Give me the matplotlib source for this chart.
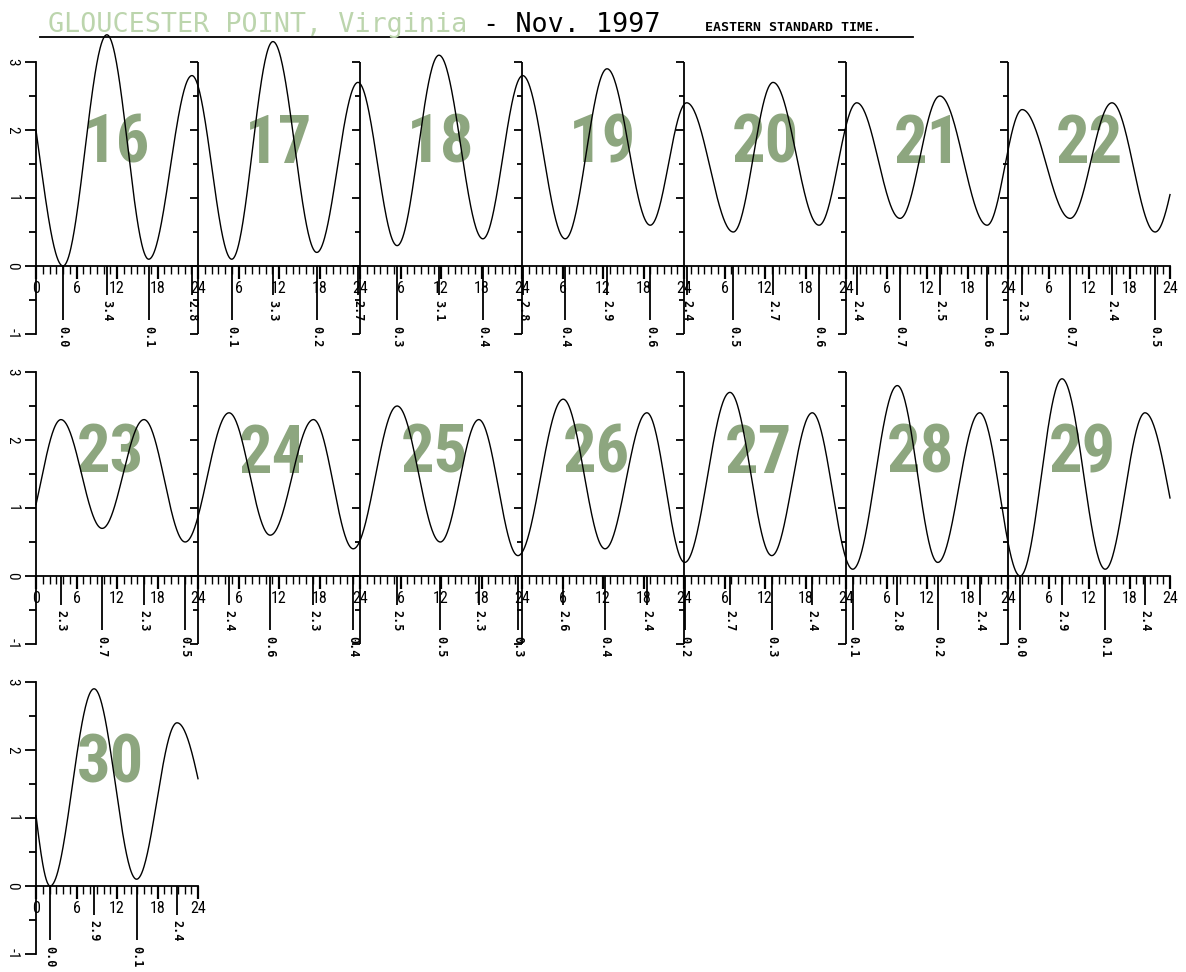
import numpy as np
import matplotlib
matplotlib.use("Agg")
import matplotlib.pyplot as plt
from matplotlib.lines import Line2D

# ---- data: tide extremes, hours from the first day of each row ----
row_days = [
    [16, 17, 18, 19, 20, 21, 22],
    [23, 24, 25, 26, 27, 28, 29],
    [30],
]

row1_times = [4.0, 10.5, 16.7, 23.1,
              29.0, 35.1, 41.6, 47.7,
              53.5, 59.7, 66.2, 72.1,
              78.4, 84.6, 91.0, 96.4,
              103.3, 109.2, 116.0, 121.6,
              128.0, 133.9, 140.9, 146.1,
              153.2, 159.4, 165.8]
row1_heights = [0.0, 3.4, 0.1, 2.8,
                0.1, 3.3, 0.2, 2.7,
                0.3, 3.1, 0.4, 2.8,
                0.4, 2.9, 0.6, 2.4,
                0.5, 2.7, 0.6, 2.4,
                0.7, 2.5, 0.6, 2.3,
                0.7, 2.4, 0.5]

row2_times = [3.7, 9.8, 16.0, 22.1,
              28.6, 34.7, 41.1, 47.0,
              53.5, 59.9, 65.6, 71.4,
              78.1, 84.3, 90.5, 96.1,
              102.8, 109.0, 115.0, 121.0,
              127.6, 133.6, 139.8, 145.8,
              152.0, 158.4, 164.3]
row2_heights = [2.3, 0.7, 2.3, 0.5,
                2.4, 0.6, 2.3, 0.4,
                2.5, 0.5, 2.3, 0.3,
                2.6, 0.4, 2.4, 0.2,
                2.7, 0.3, 2.4, 0.1,
                2.8, 0.2, 2.4, 0.0,
                2.9, 0.1, 2.4]

row3_times = [2.1, 8.6, 14.9, 20.9]
row3_heights = [0.0, 2.9, 0.1, 2.4]

# extremes just outside each row (not labelled, estimated from the curve ends)
row_lead = [(-2.9, 3.2), (-2.2, 0.5), (-2.5, 2.4)]
row_trail = [(171.7, 2.3), (171.5, 0.0), (28.5, 0.1)]

rows_times = [row1_times, row2_times, row3_times]
rows_heights = [row1_heights, row2_heights, row3_heights]

# ---- figure ----
W, H = 1186, 972
fig = plt.figure(figsize=(W / 100, H / 100), dpi=100)
fig.patch.set_facecolor("white")

num_font = ["Roboto Condensed", "Roboto", "DejaVu Sans"]
mono = "DejaVu Sans Mono"
green = "#8da67f"
x0_px, px_per_h = 36, 6.75
zero_px = [266, 576, 886]
unit_px = 68


def tide_curve(times, heights, lead, trail, t_end):
    kt = [lead[0]] + list(times) + [trail[0]]
    kh = [lead[1]] + list(heights) + [trail[1]]
    t = np.linspace(0, t_end, int(t_end * 12) + 1)
    idx = np.searchsorted(kt, t, side="right") - 1
    t0, t1 = np.take(kt, idx), np.take(kt, idx + 1)
    h0, h1 = np.take(kh, idx), np.take(kh, idx + 1)
    frac = (1 - np.cos(np.pi * (t - t0) / (t1 - t0))) / 2
    return t, h0 + (h1 - h0) * frac


for r, days in enumerate(row_days):
    nd = len(days)
    bottom = (H - (zero_px[r] + unit_px)) / H
    ax = fig.add_axes([x0_px / W, bottom, 1134 / W, 4 * unit_px / H])
    ax.set_xlim(0, 168)
    ax.set_ylim(-1, 3)
    ax.patch.set_visible(False)
    for s in ["top", "right"]:
        ax.spines[s].set_visible(False)
    ax.spines["bottom"].set_position(("data", 0))
    ax.spines["bottom"].set_bounds(0, 24 * nd)
    ax.spines["left"].set_position(("data", 0))
    ax.spines["left"].set_bounds(-1, 3)
    for s in ["bottom", "left"]:
        ax.spines[s].set_linewidth(1.3)

    # x axis: hours
    ax.set_xticks(range(0, 24 * nd + 1, 6))
    ax.set_xticks(range(0, 24 * nd + 1), minor=True)
    ax.set_xticklabels([str(h % 24 if h % 24 or h == 0 else 24)
                        for h in range(0, 24 * nd + 1, 6)])
    ax.tick_params(axis="x", which="major", length=9, width=1.6, pad=2,
                   labelsize=11.5, direction="out")
    ax.tick_params(axis="x", which="minor", length=6, width=1.0,
                   direction="out")
    # y axis: feet
    ax.set_yticks([-1, 0, 1, 2, 3])
    ax.set_yticks(np.arange(-1, 3.01, 0.5), minor=True)
    ax.set_yticklabels(["-1", "0", "1", "2", "3"], rotation=270,
                       va="center")
    ax.tick_params(axis="y", which="major", length=8, width=1.3, pad=4,
                   labelsize=11)
    ax.tick_params(axis="y", which="minor", length=5, width=1.3)
    for lab in ax.get_xticklabels() + ax.get_yticklabels():
        lab.set_family(num_font)

    # panel separators with their own ticks
    for k in range(1, nd):
        xk = 24 * k
        ax.vlines(xk, -1, 3, color="black", lw=1.3, clip_on=False)
        for yv in np.arange(-1, 3.01, 0.5):
            ln = (8 if yv == int(yv) else 5) / px_per_h
            ax.hlines(yv, xk - ln, xk, color="black", lw=1.3, clip_on=False)

    # day numbers
    off = 12.0 if r == 0 else 11.0
    for i, d in enumerate(days):
        ax.text(24 * i + off, 1.78, str(d), ha="center", va="center",
                fontsize=48, fontweight="bold", fontstretch="condensed",
                color=green, family=num_font, zorder=1)

    # tide curve
    t, h = tide_curve(rows_times[r], rows_heights[r], row_lead[r],
                      row_trail[r], 24 * nd)
    ax.plot(t, h, color="black", lw=1.0, clip_on=False, zorder=3)

    # high / low markers
    times, heights = rows_times[r], rows_heights[r]
    kh = [row_lead[r][1]] + list(heights) + [row_trail[r][1]]
    for j, (tt, hh) in enumerate(zip(times, heights)):
        high = hh > kh[j] and hh > kh[j + 2]
        y_end = -0.42 if high else -0.8
        ax.vlines(tt, y_end, 0, color="black", lw=1.3, clip_on=False)
        ax.text(tt, y_end - 0.08, f"{hh:.1f}", rotation=270, ha="center",
                va="top", fontsize=8.5, fontweight="bold", family=mono)

# ---- title ----
t1 = fig.text(48 / W, 1 - 32 / H, "GLOUCESTER POINT, Virginia", color="#bcd5ad",
              family=mono, fontsize=19.3, va="baseline")
plt.annotate(" - Nov. 1997", xy=(1, 0), xycoords=t1, va="bottom",
             ha="left", family=mono, fontsize=19.3, color="black",
             annotation_clip=False)
fig.text(705 / W, 1 - 31 / H, "EASTERN STANDARD TIME.", family=mono,
         fontsize=9.5, fontweight="bold", va="baseline")
fig.add_artist(Line2D([40 / W, 913 / W], [1 - 37 / H, 1 - 37 / H],
                      color="black", lw=1.3))

fig.savefig("out.png", dpi=100)
